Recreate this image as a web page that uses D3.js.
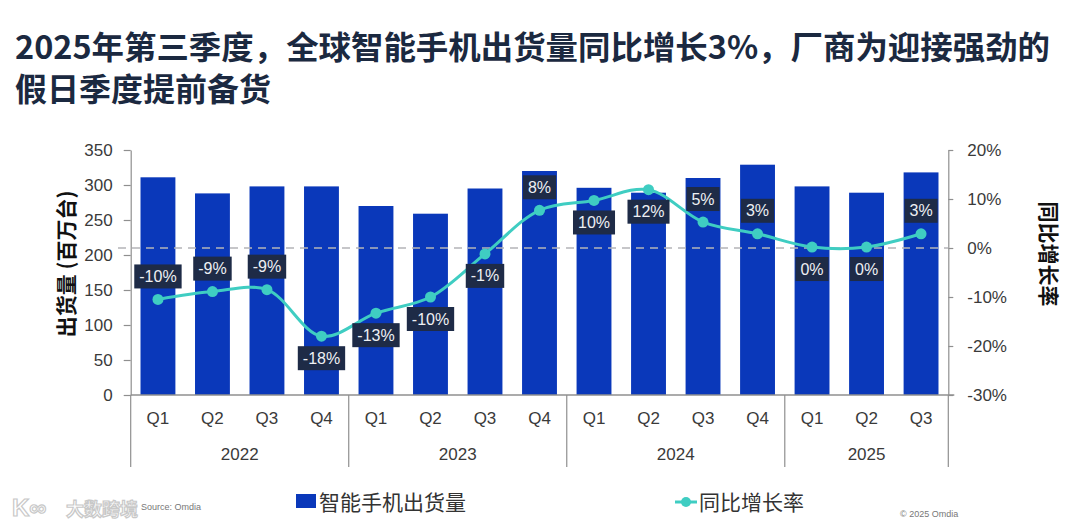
<!DOCTYPE html>
<html>
<head>
<meta charset="utf-8">
<script src="https://cdn.jsdelivr.net/npm/d3@7"></script>
<style>
  body { margin: 0; background: #fff; }
  svg { display: block; }
</style>
</head>
<body>
<svg id="chart"></svg>
<script>
// data
const categories = ['2022 Q1','2022 Q2','2022 Q3','2022 Q4',
                    '2023 Q1','2023 Q2','2023 Q3','2023 Q4',
                    '2024 Q1','2024 Q2','2024 Q3','2024 Q4',
                    '2025 Q1','2025 Q2','2025 Q3'];
const years = ['2022','2023','2024','2025'];
const shipments = [311, 288, 298, 298, 270, 259, 295, 320, 296, 289, 310, 329, 298, 289, 318];
const yoy = [-10.5, -8.9, -8.5, -18.0, -13.3, -10.0, -1.2, 7.7, 9.7, 11.9, 5.3, 2.9, 0.2, 0.2, 2.9];
const yoyLabels = ['-10%','-9%','-9%','-18%','-13%','-10%','-1%','8%','10%','12%','5%','3%','0%','0%','3%'];
const labelSide = ['up','up','up','down','down','down','down','up','down','down','up','up','down','down','up'];
const leftTicks = [0, 50, 100, 150, 200, 250, 300, 350];
const rightTicks = [-30, -20, -10, 0, 10, 20];

const W = 1080, H = 526;
const plot = { left: 130.7, right: 948.3, top: 150, bottom: 395 };
const barColor = '#0a38ba', lineColor = '#3fcdc2', boxColor = '#1e2b47', axisColor = '#8f8f8f';
const numFont = '"Liberation Sans", Arial, "Noto Sans CJK SC", sans-serif';
const cjkFont = '"Noto Sans CJK SC", "Liberation Sans", sans-serif';

const svg = d3.select('#chart').attr('width', W).attr('height', H);
svg.append('rect').attr('width', W).attr('height', H).attr('fill', '#fff');

// title
const title = svg.append('g')
    .attr('font-family', cjkFont).attr('font-weight', 700)
    .attr('font-size', 32).attr('fill', '#1b2940');
title.append('text').attr('x', 15).attr('y', 59)
    .attr('textLength', 1035).attr('lengthAdjust', 'spacingAndGlyphs')
    .text('2025年第三季度，全球智能手机出货量同比增长3%，厂商为迎接强劲的');
title.append('text').attr('x', 15).attr('y', 101)
    .text('假日季度提前备货');

// scales
const x = d3.scaleBand().domain(categories).range([plot.left, plot.right])
    .paddingInner(0.36).paddingOuter(0.18);
const yL = d3.scaleLinear().domain([0, 350]).range([plot.bottom, plot.top]);
const yR = d3.scaleLinear().domain([-30, 20]).range([plot.bottom, plot.top]);
const cx = c => x(c) + x.bandwidth() / 2;
const bandStart = c => x(c) - (x.step() - x.bandwidth()) / 2;

// left axis
const gL = svg.append('g').attr('transform', `translate(${plot.left},0)`)
    .call(d3.axisLeft(yL).tickValues(leftTicks).tickSize(7).tickPadding(11).tickSizeOuter(0));
// right axis
const gR = svg.append('g').attr('transform', `translate(${plot.right},0)`)
    .call(d3.axisRight(yR).tickValues(rightTicks).tickSize(5).tickPadding(14).tickSizeOuter(0)
        .tickFormat(d => d + '%'));
[gL, gR].forEach(g => {
    g.selectAll('path, line').attr('stroke', axisColor).attr('stroke-width', 1.2);
    g.selectAll('text').attr('font-family', numFont).attr('font-size', 17).attr('fill', '#3a3a3a');
});

// bars
svg.append('g').selectAll('rect').data(categories).join('rect')
    .attr('x', d => x(d))
    .attr('y', (d, i) => yL(shipments[i]))
    .attr('width', x.bandwidth())
    .attr('height', (d, i) => yL(0) - yL(shipments[i]))
    .attr('fill', barColor);

// zero line of the growth axis
svg.append('line')
    .attr('x1', 118).attr('x2', plot.right)
    .attr('y1', yR(0)).attr('y2', yR(0))
    .attr('stroke', '#b4b4b8').attr('stroke-width', 1.5).attr('stroke-dasharray', '8,6');

// category axis
svg.append('line').attr('x1', plot.left).attr('x2', plot.right + 6)
    .attr('y1', plot.bottom).attr('y2', plot.bottom)
    .attr('stroke', axisColor).attr('stroke-width', 1.4);
svg.append('g').selectAll('text').data(categories).join('text')
    .attr('x', d => cx(d)).attr('y', 418)
    .attr('text-anchor', 'middle').attr('dominant-baseline', 'central')
    .attr('font-family', numFont).attr('font-size', 17).attr('fill', '#3a3a3a')
    .text(d => d.split(' ')[1]);

const yearGroups = years.map(yr => {
    const cats = categories.filter(c => c.startsWith(yr));
    const x0 = bandStart(cats[0]);
    const x1 = bandStart(cats[cats.length - 1]) + x.step();
    return { yr, x0, x1 };
});
const gy = svg.append('g');
gy.selectAll('line').data(yearGroups.map(g => g.x0).concat([plot.right])).join('line')
    .attr('x1', d => d).attr('x2', d => d).attr('y1', plot.bottom).attr('y2', 467)
    .attr('stroke', axisColor).attr('stroke-width', 1.2);
gy.selectAll('text').data(yearGroups).join('text')
    .attr('x', d => (d.x0 + d.x1) / 2).attr('y', 454)
    .attr('text-anchor', 'middle').attr('dominant-baseline', 'central')
    .attr('font-family', numFont).attr('font-size', 17).attr('fill', '#3a3a3a')
    .text(d => d.yr);

// growth line
const pts = categories.map((c, i) => [cx(c), yR(yoy[i])]);
svg.append('path').attr('d', d3.line().curve(d3.curveCatmullRom.alpha(0.5))(pts))
    .attr('fill', 'none').attr('stroke', lineColor).attr('stroke-width', 3);
svg.append('g').selectAll('circle').data(pts).join('circle')
    .attr('cx', d => d[0]).attr('cy', d => d[1]).attr('r', 5.5).attr('fill', lineColor);

// data labels
const lab = svg.append('g').selectAll('g').data(categories).join('g')
    .attr('transform', (c, i) => `translate(${cx(c)},${yR(yoy[i]) + (labelSide[i] === 'up' ? -23 : 22)})`);
lab.append('rect').attr('fill', boxColor);
lab.append('text')
    .attr('text-anchor', 'middle').attr('dominant-baseline', 'central')
    .attr('font-family', numFont).attr('font-size', 16).attr('fill', '#eef0f4')
    .text((c, i) => yoyLabels[i]);
lab.each(function () {
    const w = d3.select(this).select('text').node().getComputedTextLength() + 10;
    d3.select(this).select('rect').attr('x', -w / 2).attr('y', -12).attr('width', w).attr('height', 24);
});

// axis titles
svg.append('text')
    .attr('transform', 'translate(65,264) rotate(-90)')
    .attr('text-anchor', 'middle').attr('dominant-baseline', 'central')
    .attr('font-family', cjkFont).attr('font-weight', 700).attr('font-size', 21).attr('fill', '#111')
    .text('出货量 (百万台)');
svg.append('text')
    .attr('transform', 'translate(1050,254) rotate(90)')
    .attr('text-anchor', 'middle').attr('dominant-baseline', 'central')
    .attr('font-family', cjkFont).attr('font-weight', 700).attr('font-size', 21).attr('fill', '#111')
    .text('同比增长率');

// legend
svg.append('rect').attr('x', 296).attr('y', 494).attr('width', 20).attr('height', 14).attr('fill', barColor);
svg.append('text').attr('x', 319).attr('y', 501).attr('dominant-baseline', 'central')
    .attr('font-family', cjkFont).attr('font-size', 21).attr('fill', '#333')
    .text('智能手机出货量');
svg.append('line').attr('x1', 675).attr('x2', 697).attr('y1', 502).attr('y2', 502)
    .attr('stroke', lineColor).attr('stroke-width', 3);
svg.append('circle').attr('cx', 686).attr('cy', 502).attr('r', 5).attr('fill', lineColor);
svg.append('text').attr('x', 699).attr('y', 501).attr('dominant-baseline', 'central')
    .attr('font-family', cjkFont).attr('font-size', 21).attr('fill', '#333')
    .text('同比增长率');

// footer
svg.append('text').attr('x', 141).attr('y', 510)
    .attr('font-family', numFont).attr('font-size', 9).attr('fill', '#777')
    .text('Source: Omdia');
svg.append('text').attr('x', 900).attr('y', 517)
    .attr('font-family', numFont).attr('font-size', 9).attr('fill', '#777')
    .text('© 2025 Omdia');

// watermark
svg.append('text').attr('x', 12).attr('y', 516)
    .attr('font-family', numFont).attr('font-size', 24).attr('font-weight', 700)
    .attr('fill', '#fff').attr('stroke', '#c8c8c8').attr('stroke-width', 1.2)
    .text('K∞');
svg.append('text').attr('x', 66).attr('y', 516)
    .attr('font-family', cjkFont).attr('font-size', 18).attr('font-weight', 700)
    .attr('fill', '#fff').attr('stroke', '#c8c8c8').attr('stroke-width', 1.2)
    .text('大数跨境');
</script>
</body>
</html>
